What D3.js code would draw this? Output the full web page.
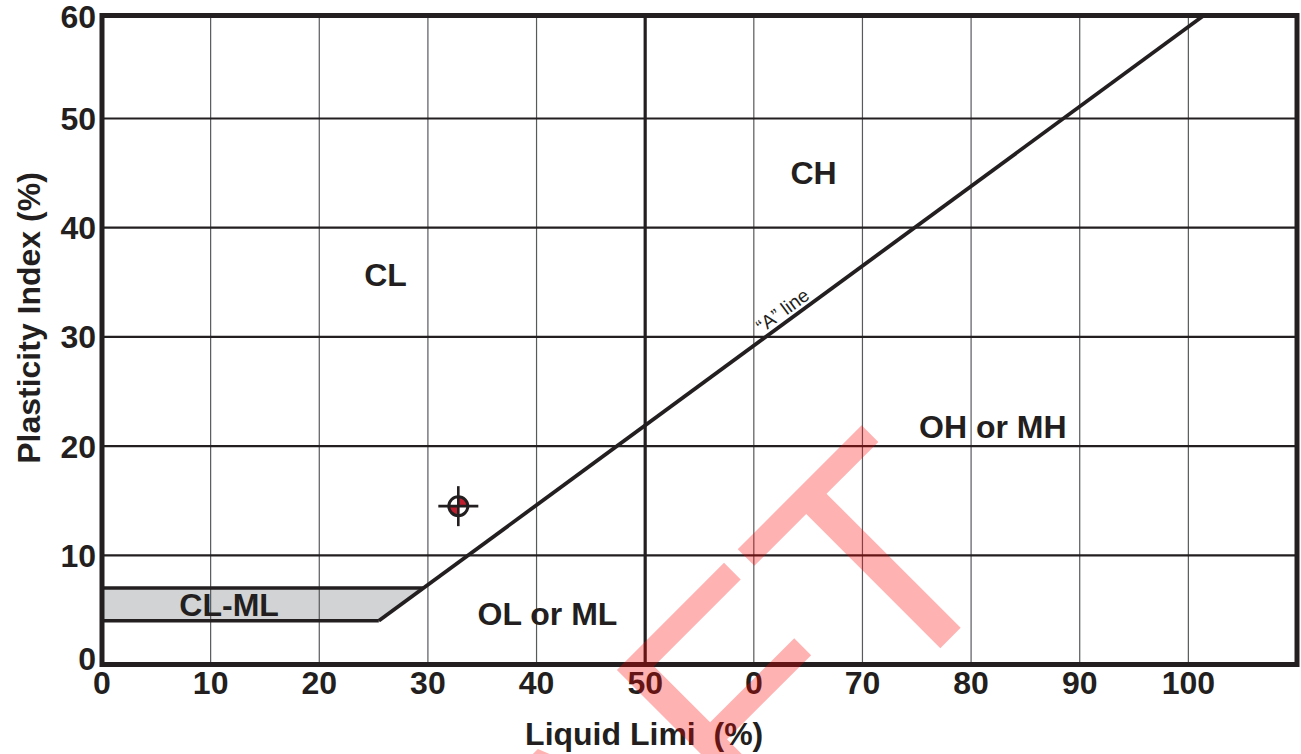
<!DOCTYPE html>
<html><head><meta charset="utf-8">
<script src="https://cdn.jsdelivr.net/npm/d3@7"></script>
<style>body{margin:0;background:#fff}svg{display:block}</style>
</head><body>
<svg id="chart" width="1301" height="754"></svg>
<script>
// ---- data ----
const xTicks = [0, 10, 20, 30, 40, 50, 60, 70, 80, 90, 100];
const xTickLabels = ["0", "10", "20", "30", "40", "50", "0", "70", "80", "90", "100"];
const yTicks = [0, 10, 20, 30, 40, 50, 60];
const yTickLabels = ["0", "10", "20", "30", "40", "50", "60"];
const aLineSlope = 0.73, aLineOrigin = 20;      // PI = 0.73 (LL - 20)
const clmlBand = [4, 7];                          // CL-ML band (PI)
const lowHighDivider = 50;                        // LL = 50
const zoneNames = ["CL", "CH", "OH or MH", "OL or ML", "CL-ML"];
const zoneLL = [26.1, 65.5, 82.0, 41.0, 11.7];
const zonePI = [35.7, 45.1, 21.8, 4.7, 5.5];
const sampleLL = [32.8];
const samplePI = [14.5];
const xTitle = "Liquid Limi  (%)";
const yTitle = "Plasticity Index (%)";
const aLineLabel = "\u201CA\u201D line";

// ---- layout ----
const svg = d3.select("#chart");
const ink = "#231f20";
const font = "Liberation Sans, Arial, Helvetica, sans-serif";
const left = 102, right = 1297, bottom = 664.5, frameTop = 15.5;
const x = d3.scaleLinear().domain([0, 110]).range([left, right]);
const y = d3.scaleLinear().domain([0, 60]).range([bottom, 9.3]);
const piTop = y.invert(frameTop);
const aPI = ll => aLineSlope * (ll - aLineOrigin);
const aLL = pi => pi / aLineSlope + aLineOrigin;

const g = svg.append("g");

// CL-ML band
const band = [[0, clmlBand[0]], [aLL(clmlBand[0]), clmlBand[0]], [aLL(clmlBand[1]), clmlBand[1]], [0, clmlBand[1]]];
g.append("path").attr("d", d3.line().x(d => x(d[0])).y(d => y(d[1]))(band) + "Z")
  .attr("fill", "#d1d3d4");

// vertical grid
g.selectAll(".vg").data(xTicks.filter(d => d > 0 && d !== lowHighDivider)).join("line")
  .attr("x1", d => x(d)).attr("x2", d => x(d)).attr("y1", frameTop).attr("y2", bottom)
  .attr("stroke", "#58595b").attr("stroke-width", 1.2);
// horizontal grid
g.selectAll(".hg").data(yTicks.filter(d => d > 0 && y(d) > frameTop + 5)).join("line")
  .attr("x1", left).attr("x2", right).attr("y1", d => y(d)).attr("y2", d => y(d))
  .attr("stroke", ink).attr("stroke-width", 2.2);

// LL = 50 divider
g.append("line").attr("x1", x(lowHighDivider)).attr("x2", x(lowHighDivider))
  .attr("y1", frameTop).attr("y2", bottom).attr("stroke", ink).attr("stroke-width", 3.2);

// CL-ML band edges
g.append("line").attr("x1", x(0)).attr("x2", x(aLL(clmlBand[1]))).attr("y1", y(clmlBand[1])).attr("y2", y(clmlBand[1]))
  .attr("stroke", ink).attr("stroke-width", 3.5);
g.append("line").attr("x1", x(0)).attr("x2", x(aLL(clmlBand[0]))).attr("y1", y(clmlBand[0])).attr("y2", y(clmlBand[0]))
  .attr("stroke", ink).attr("stroke-width", 3.5);

// A-line
const aPts = [[aLL(clmlBand[0]), clmlBand[0]], [aLL(piTop), piTop]];
g.append("path").attr("d", d3.line().x(d => x(d[0])).y(d => y(d[1]))(aPts))
  .attr("fill", "none").attr("stroke", ink).attr("stroke-width", 3.8);

// A-line label
const angle = Math.atan2(y(aPI(70)) - y(aPI(60)), x(70) - x(60)) * 180 / Math.PI;
const lblLL = 63.0;
g.append("text").attr("transform", `translate(${x(lblLL)},${y(aPI(lblLL)) - 6}) rotate(${angle})`)
  .attr("text-anchor", "middle").attr("font-family", font)
  .attr("font-size", 19).attr("fill", ink).text(aLineLabel);

// frame
g.append("rect").attr("x", left).attr("y", frameTop).attr("width", right - left).attr("height", bottom - frameTop)
  .attr("fill", "none").attr("stroke", ink).attr("stroke-width", 5);

// zone labels
g.selectAll(".zl").data(zoneNames).join("text")
  .attr("x", (d, i) => x(zoneLL[i])).attr("y", (d, i) => y(zonePI[i])).attr("dy", "0.36em")
  .attr("text-anchor", "middle").attr("font-family", font)
  .attr("font-weight", "bold").attr("font-size", 32).attr("fill", ink).text(d => d);

// sample point
const s = g.selectAll(".s").data(sampleLL.map((d, i) => [d, samplePI[i]])).join("g")
  .attr("transform", d => `translate(${x(d[0])},${y(d[1])})`);
const r = 9.5;
s.append("circle").attr("r", r).attr("fill", "#fff");
s.append("path").attr("d", d3.arc()({innerRadius: 0, outerRadius: r, startAngle: 0, endAngle: Math.PI / 2})).attr("fill", "#be1e2d");
s.append("path").attr("d", d3.arc()({innerRadius: 0, outerRadius: r, startAngle: Math.PI, endAngle: 1.5 * Math.PI})).attr("fill", "#be1e2d");
s.append("circle").attr("r", r).attr("fill", "none").attr("stroke", ink).attr("stroke-width", 3);
s.append("line").attr("x1", -20).attr("x2", 20).attr("stroke", ink).attr("stroke-width", 2.6);
s.append("line").attr("y1", -20).attr("y2", 20).attr("stroke", ink).attr("stroke-width", 2.6);

// tick labels
const tickSize = 32;
g.selectAll(".xt").data(xTicks).join("text")
  .attr("x", d => x(d)).attr("y", 694).attr("text-anchor", "middle")
  .attr("font-family", font).attr("font-weight", "bold").attr("font-size", tickSize)
  .attr("fill", ink).text((d, i) => xTickLabels[i]);
g.selectAll(".yt").data(yTicks).join("text")
  .attr("x", 96).attr("y", d => Math.max(y(d), frameTop + 1) - (d === 0 ? 6 : 0)).attr("dy", "0.36em")
  .attr("text-anchor", "end")
  .attr("font-family", font).attr("font-weight", "bold").attr("font-size", tickSize)
  .attr("fill", ink).text((d, i) => yTickLabels[i]);

// axis titles
g.append("text").attr("x", x(50) - 1).attr("y", 745).attr("text-anchor", "middle")
  .attr("xml:space", "preserve").style("white-space", "pre")
  .attr("font-family", font).attr("font-weight", "bold").attr("font-size", 32)
  .attr("fill", ink).text(xTitle);
g.append("text").attr("transform", "translate(40,318) rotate(-90)").attr("text-anchor", "middle")
  .attr("font-family", font).attr("font-weight", "bold").attr("font-size", 32)
  .attr("fill", ink).text(yTitle);

// watermark
svg.append("text").attr("transform", "translate(1017.5,571) rotate(-45)")
  .attr("text-anchor", "end").attr("font-family", font)
  .attr("font-size", 310).attr("fill", "#ff0000").attr("fill-opacity", 0.3).text("DRAFT");
</script>
</body></html>
